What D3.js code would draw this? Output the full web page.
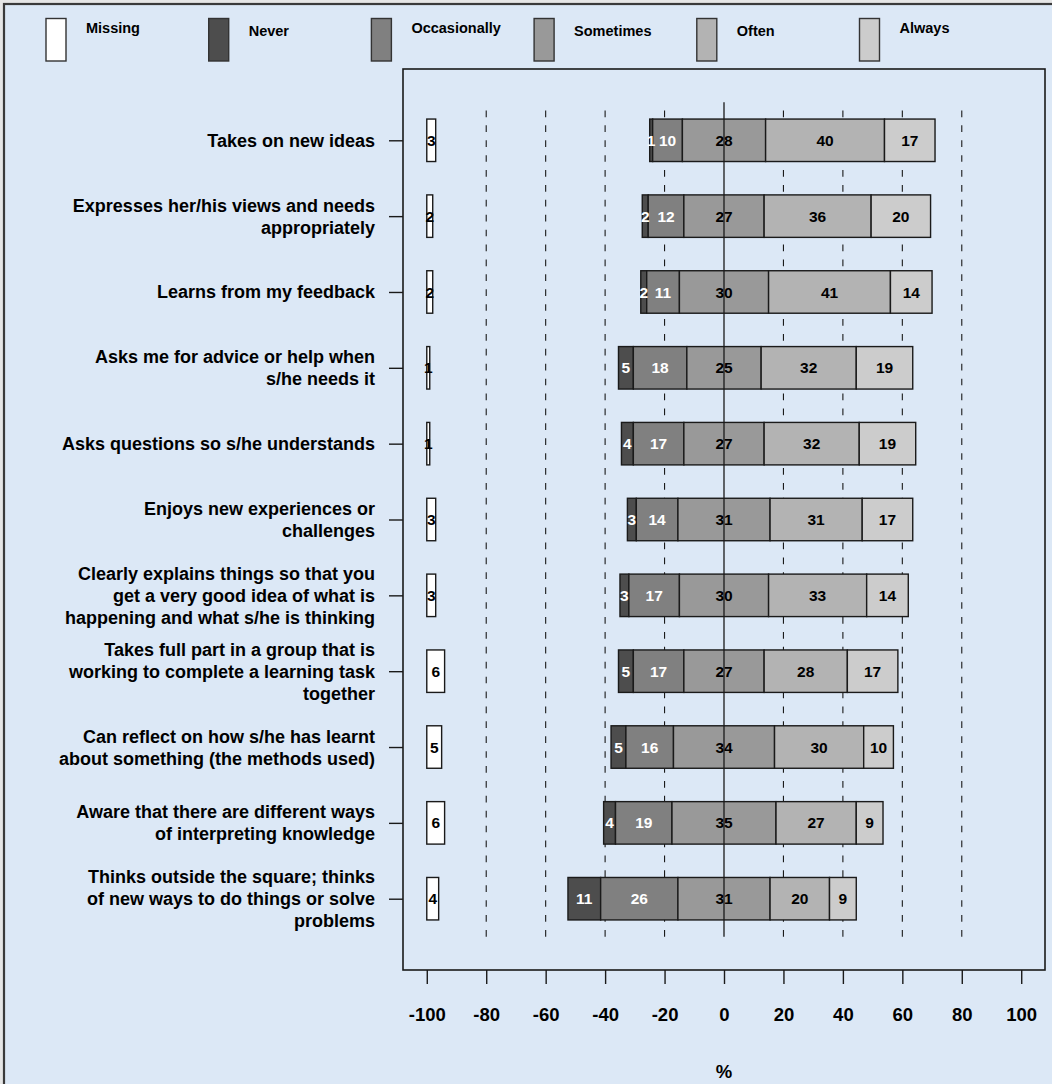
<!DOCTYPE html>
<html>
<head>
<meta charset="utf-8">
<script src="https://cdn.jsdelivr.net/npm/d3@7/dist/d3.min.js"></script>
<style>
  html, body { margin: 0; padding: 0; background: #e6e6e6; }
  svg { display: block; }
  text { font-family: "Liberation Sans", Arial, Helvetica, sans-serif; font-weight: bold; }
</style>
</head>
<body>
<svg id="chart" width="1052" height="1084"></svg>
<script>
// ---------------- DATA ----------------
const categories = [
  ["Takes on new ideas"],
  ["Expresses her/his views and needs", "appropriately"],
  ["Learns from my feedback"],
  ["Asks me for advice or help when", "s/he needs it"],
  ["Asks questions so s/he understands"],
  ["Enjoys new experiences or", "challenges"],
  ["Clearly explains things so that you", "get a very good idea of what is", "happening and what s/he is thinking"],
  ["Takes full part in a group that is", "working to complete a learning task", "together"],
  ["Can reflect on how s/he has learnt", "about something (the methods used)"],
  ["Aware that there are different ways", "of interpreting knowledge"],
  ["Thinks outside the square; thinks", "of new ways to do things or solve", "problems"]
];
const legendLabels = ["Missing", "Never", "Occasionally", "Sometimes", "Often", "Always"];
const missing      = [3, 2, 2, 1, 1, 3, 3, 6, 5, 6, 4];
const never        = [1, 2, 2, 5, 4, 3, 3, 5, 5, 4, 11];
const occasionally = [10, 12, 11, 18, 17, 14, 17, 17, 16, 19, 26];
const sometimes    = [28, 27, 30, 25, 27, 31, 30, 27, 34, 35, 31];
const often        = [40, 36, 41, 32, 32, 31, 33, 28, 30, 27, 20];
const always       = [17, 20, 14, 19, 19, 17, 14, 17, 10, 9, 9];
const xTicks = [-100, -80, -60, -40, -20, 0, 20, 40, 60, 80, 100];
const xTickLabels = ["-100", "-80", "-60", "-40", "-20", "0", "20", "40", "60", "80", "100"];
const gridValues = [-80, -60, -40, -20, 20, 40, 60, 80];
const xTitle = "%";

// ---------------- STYLE ----------------
const fills = ["#ffffff", "#4d4d4d", "#808080", "#999999", "#b3b3b3", "#cccccc"];
const labelColors = ["#000", "#fff", "#fff", "#000", "#000", "#000"];
const bg = "#dce8f6";
const ink = "#1a1a1a";

const svg = d3.select("#chart");
const W = 1052, H = 1084;

// background + outer frame (frame only visible at top/left)
svg.append("rect").attr("x", 4).attr("y", 4).attr("width", W + 20).attr("height", H + 20)
  .attr("fill", bg).attr("stroke", "#3a3a3a").attr("stroke-width", 2.2);

const x = d3.scaleLinear().domain([-108, 108]).range([403, 1045]);
const y = d3.scaleLinear().domain([0.06, 11.94]).range([69, 970]);
const rows = d3.range(1, categories.length + 1);
const halfH = 0.28;

// dashed grid (drawn bottom to top)
svg.append("g").selectAll("line").data(gridValues).join("line")
  .attr("x1", d => x(d)).attr("x2", d => x(d))
  .attr("y1", y(11.5)).attr("y2", y(0.5))
  .attr("stroke", ink).attr("stroke-width", 1.1)
  .attr("stroke-dasharray", "6.7,8.2");

// build segments
const series = [never, occasionally, sometimes, often, always];
const segs = [];
rows.forEach((r, i) => {
  let start = -(never[i] + occasionally[i] + sometimes[i] / 2);
  series.forEach((s, k) => {
    segs.push({ row: r, k: k + 1, v: s[i], x0: start, x1: start + s[i] });
    start += s[i];
  });
  segs.push({ row: r, k: 0, v: missing[i], x0: -100, x1: -100 + missing[i] });
});

const gBars = svg.append("g");
gBars.selectAll("rect").data(segs).join("rect")
  .attr("x", d => x(d.x0)).attr("width", d => x(d.x1) - x(d.x0))
  .attr("y", d => y(d.row - halfH)).attr("height", d => y(d.row + halfH) - y(d.row - halfH))
  .attr("fill", d => fills[d.k]).attr("stroke", ink).attr("stroke-width", 1.4);

gBars.selectAll("text").data(segs).join("text")
  .attr("x", d => x((d.x0 + d.x1) / 2)).attr("y", d => y(d.row))
  .attr("dy", "0.36em").attr("text-anchor", "middle")
  .attr("font-size", 15.5).attr("fill", d => labelColors[d.k])
  .text(d => d.v);

// zero line
svg.append("line").attr("x1", x(0)).attr("x2", x(0))
  .attr("y1", y(0.5)).attr("y2", y(11.5))
  .attr("stroke", ink).attr("stroke-width", 1.3);

// plot box
svg.append("rect").attr("x", x(-108)).attr("y", y(0.06))
  .attr("width", x(108) - x(-108)).attr("height", y(11.94) - y(0.06))
  .attr("fill", "none").attr("stroke", ink).attr("stroke-width", 1.6);

// bottom axis
const xAxis = svg.append("g").attr("transform", `translate(0,${y(11.94)})`)
  .call(d3.axisBottom(x).tickValues(xTicks).tickSize(14).tickPadding(24)
    .tickFormat((d, i) => xTickLabels[i]));
xAxis.select(".domain").remove();
xAxis.selectAll(".tick line").attr("stroke", ink).attr("stroke-width", 1.4);
xAxis.selectAll(".tick text").attr("font-size", 18.5).attr("fill", "#000")
  .attr("font-family", "'Liberation Sans', Arial, sans-serif").attr("font-weight", "bold");

svg.append("text").attr("x", x(0)).attr("y", 1078).attr("text-anchor", "middle")
  .attr("font-size", 18.5).attr("fill", "#000").text(xTitle);

// left axis ticks
const yAxis = svg.append("g").attr("transform", `translate(${x(-108)},0)`)
  .call(d3.axisLeft(y).tickValues(rows).tickSize(14).tickFormat(""));
yAxis.select(".domain").remove();
yAxis.selectAll(".tick line").attr("stroke", ink).attr("stroke-width", 1.4);

// category labels (multi-line, right aligned)
const LH = 22, capHalf = 6.5;
const gLab = svg.append("g");
categories.forEach((lines, i) => {
  const cy = y(rows[i]);
  const n = lines.length;
  const t = gLab.append("text").attr("text-anchor", "end").attr("font-size", 18).attr("fill", "#000");
  lines.forEach((ln, j) => {
    t.append("tspan").attr("x", x(-108) - 28)
      .attr("y", cy + capHalf + (j - (n - 1) / 2) * LH).text(ln);
  });
});

// legend
const gLeg = svg.append("g");
legendLabels.forEach((lab, i) => {
  const bx = 46 + 162.7 * i;
  gLeg.append("rect").attr("x", bx).attr("y", 18.5).attr("width", 20).attr("height", 42.5)
    .attr("fill", fills[i]).attr("stroke", "#333").attr("stroke-width", 1.4);
  const desc = /[gjpqy]/.test(lab);
  gLeg.append("text").attr("x", bx + 40).attr("y", desc ? 33.3 : 35.5)
    .attr("font-size", 14.5).attr("fill", "#000").text(lab);
});
</script>
</body>
</html>
